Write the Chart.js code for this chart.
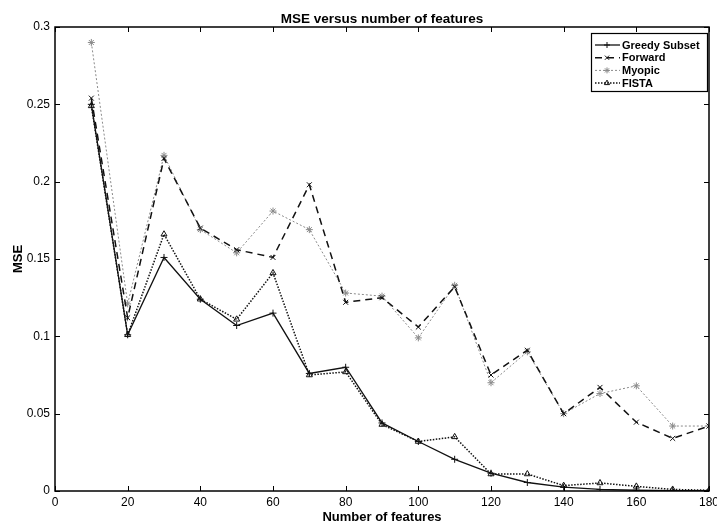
<!DOCTYPE html>
<html>
<head>
<meta charset="utf-8">
<script src="https://cdn.jsdelivr.net/npm/chart.js@4.4.1/dist/chart.umd.min.js"></script>
<style>
  html, body { margin: 0; padding: 0; background: #fff; }
  #wrap { width: 717px; height: 524px; }
</style>
</head>
<body>
<div id="wrap"><canvas id="chart"></canvas></div>
<script>
const features = [10, 20, 30, 40, 50, 60, 70, 80, 90, 100, 110, 120, 130, 140, 150, 160, 170, 180];
const greedySubset = [0.250, 0.101, 0.151, 0.124, 0.107, 0.115, 0.076, 0.080, 0.044, 0.032, 0.0205, 0.0115, 0.0055, 0.0025, 0.001, 0.0005, 0.0003, 0.0002];
const forward = [0.254, 0.112, 0.215, 0.170, 0.156, 0.151, 0.198, 0.122, 0.125, 0.106, 0.132, 0.075, 0.091, 0.050, 0.067, 0.0445, 0.034, 0.042];
const myopic = [0.290, 0.121, 0.217, 0.169, 0.154, 0.181, 0.169, 0.128, 0.126, 0.099, 0.133, 0.070, 0.090, 0.050, 0.063, 0.068, 0.042, 0.042];
const fista = [0.249, 0.101, 0.166, 0.124, 0.111, 0.141, 0.075, 0.077, 0.043, 0.032, 0.035, 0.011, 0.011, 0.0035, 0.0052, 0.003, 0.001, 0.0005];
const seriesNames = ["Greedy Subset", "Forward", "Myopic", "FISTA"];
const xTickLabels = ["0", "20", "40", "60", "80", "100", "120", "140", "160", "180"];
const yTickLabels = ["0", "0.05", "0.1", "0.15", "0.2", "0.25", "0.3"];
const chartTitle = "MSE versus number of features";

const FONT = "'Liberation Sans', Arial, Helvetica, sans-serif";

function toPoints(values) {
  return values.map((v, i) => ({ x: features[i], y: v }));
}

// box round the plot with ticks pointing inwards, like matlab
const framePlugin = {
  id: "frame",
  afterDatasetsDraw(chart) {
    const { ctx, chartArea: a, scales } = chart;
    ctx.save();
    ctx.strokeStyle = "#000";
    ctx.lineWidth = 1.5;
    ctx.strokeRect(a.left, a.top, a.right - a.left, a.bottom - a.top);
    ctx.lineWidth = 1;
    ctx.beginPath();
    scales.x.ticks.forEach((t) => {
      const px = Math.round(scales.x.getPixelForValue(t.value)) + 0.5;
      ctx.moveTo(px, a.bottom); ctx.lineTo(px, a.bottom - 5);
      ctx.moveTo(px, a.top); ctx.lineTo(px, a.top + 5);
    });
    scales.y.ticks.forEach((t) => {
      const py = Math.round(scales.y.getPixelForValue(t.value)) + 0.5;
      ctx.moveTo(a.left, py); ctx.lineTo(a.left + 5, py);
      ctx.moveTo(a.right, py); ctx.lineTo(a.right - 5, py);
    });
    ctx.stroke();

    // title centred over the plot area
    ctx.fillStyle = "#000";
    ctx.font = "bold 13.5px " + FONT;
    ctx.textAlign = "center";
    ctx.textBaseline = "alphabetic";
    ctx.fillText(chartTitle, (a.left + a.right) / 2, 23);
    ctx.restore();
  },
};

function drawMarker(ctx, style, x, y, r) {
  ctx.beginPath();
  if (style === "cross") {
    ctx.moveTo(x - r, y); ctx.lineTo(x + r, y);
    ctx.moveTo(x, y - r); ctx.lineTo(x, y + r);
  } else if (style === "crossRot") {
    const d = r * 0.7;
    ctx.moveTo(x - d, y - d); ctx.lineTo(x + d, y + d);
    ctx.moveTo(x - d, y + d); ctx.lineTo(x + d, y - d);
  } else if (style === "triangle") {
    ctx.moveTo(x, y - r); ctx.lineTo(x + r * 0.87, y + r * 0.5);
    ctx.lineTo(x - r * 0.87, y + r * 0.5); ctx.closePath();
  } else {
    ctx.moveTo(x - r, y); ctx.lineTo(x + r, y);
    ctx.moveTo(x, y - r); ctx.lineTo(x, y + r);
    const d = r * 0.7;
    ctx.moveTo(x - d, y - d); ctx.lineTo(x + d, y + d);
    ctx.moveTo(x - d, y + d); ctx.lineTo(x + d, y - d);
  }
  ctx.stroke();
}

// legend box drawn inside the plot, top right
const legendBoxPlugin = {
  id: "legendBox",
  afterDatasetsDraw(chart) {
    const { ctx } = chart;
    const bx = 591, by = 33, bw = 116, bh = 58;
    ctx.save();
    ctx.fillStyle = "#fff";
    ctx.fillRect(bx, by, bw, bh);
    ctx.strokeStyle = "#000";
    ctx.lineWidth = 1.2;
    ctx.strokeRect(bx + 0.5, by + 0.5, bw, bh);
    ctx.font = "bold 11px " + FONT;
    ctx.textBaseline = "middle";
    chart.data.datasets.forEach((ds, i) => {
      const y = by + 12 + i * 12.7;
      ctx.strokeStyle = ds.borderColor;
      ctx.lineWidth = ds.borderWidth;
      ctx.setLineDash(ds.borderDash || []);
      ctx.beginPath();
      ctx.moveTo(bx + 4, y); ctx.lineTo(bx + 29, y);
      ctx.stroke();
      ctx.setLineDash([]);
      ctx.lineWidth = 1;
      drawMarker(ctx, ds.pointStyle, bx + 16, y, 3);
      ctx.fillStyle = "#000";
      ctx.fillText(ds.label, bx + 31, y + 0.5);
    });
    ctx.restore();
  },
};

new Chart(document.getElementById("chart"), {
  type: "line",
  data: {
    datasets: [
      {
        label: seriesNames[0],
        data: toPoints(greedySubset),
        borderColor: "#111",
        borderWidth: 1.3,
        pointStyle: "cross",
        pointRadius: 3.5,
        pointBorderWidth: 1,
        pointBorderColor: "#111",
        backgroundColor: "transparent",
      },
      {
        label: seriesNames[1],
        data: toPoints(forward),
        borderColor: "#111",
        borderWidth: 1.5,
        borderDash: [7, 5],
        pointStyle: "crossRot",
        pointRadius: 3.5,
        pointBorderWidth: 1,
        pointBorderColor: "#111",
        backgroundColor: "transparent",
      },
      {
        label: seriesNames[2],
        data: toPoints(myopic),
        borderColor: "#8a8a8a",
        borderWidth: 1,
        borderDash: [2, 2],
        pointStyle: "star",
        pointRadius: 3.5,
        pointBorderWidth: 1,
        pointBorderColor: "#8a8a8a",
        backgroundColor: "transparent",
      },
      {
        label: seriesNames[3],
        data: toPoints(fista),
        borderColor: "#111",
        borderWidth: 1.5,
        borderDash: [1.5, 1.5],
        pointStyle: "triangle",
        pointRadius: 3.5,
        pointBorderWidth: 1,
        pointBorderColor: "#111",
        backgroundColor: "transparent",
      },
    ],
  },
  options: {
    responsive: true,
    maintainAspectRatio: false,
    animation: false,
    layout: {
      padding: { top: 27, right: 8, left: 0, bottom: 0 },
    },
    scales: {
      x: {
        type: "linear",
        min: 0,
        max: 180,
        afterFit: (s) => { s.height = 33; s.paddingLeft = 0; s.paddingRight = 0; },
        afterBuildTicks: (s) => { s.ticks = xTickLabels.map((l) => ({ value: Number(l) })); },
        grid: { display: false, drawTicks: false },
        border: { display: false },
        ticks: {
          color: "#000",
          padding: 4,
          maxRotation: 0,
          autoSkip: false,
          font: { family: FONT, size: 12 },
          callback: (v, i) => xTickLabels[i],
        },
        title: {
          display: true,
          text: "Number of features",
          color: "#000",
          padding: { top: 0, bottom: 0 },
          font: { family: FONT, size: 13, weight: "bold", lineHeight: 1 },
        },
      },
      y: {
        min: 0,
        max: 0.3,
        afterFit: (s) => { s.width = 55; },
        afterBuildTicks: (s) => { s.ticks = yTickLabels.map((l) => ({ value: Number(l) })); },
        grid: { display: false, drawTicks: false },
        border: { display: false },
        ticks: {
          color: "#000",
          padding: 5,
          autoSkip: false,
          font: { family: FONT, size: 12 },
          callback: (v, i) => yTickLabels[i],
        },
        title: {
          display: true,
          text: "MSE",
          color: "#000",
          padding: { top: 12, bottom: 0 },
          font: { family: FONT, size: 13, weight: "bold", lineHeight: 1 },
        },
      },
    },
    plugins: {
      legend: { display: false },
      tooltip: { enabled: false },
      title: { display: false },
    },
  },
  plugins: [framePlugin, legendBoxPlugin],
});
</script>
</body>
</html>
